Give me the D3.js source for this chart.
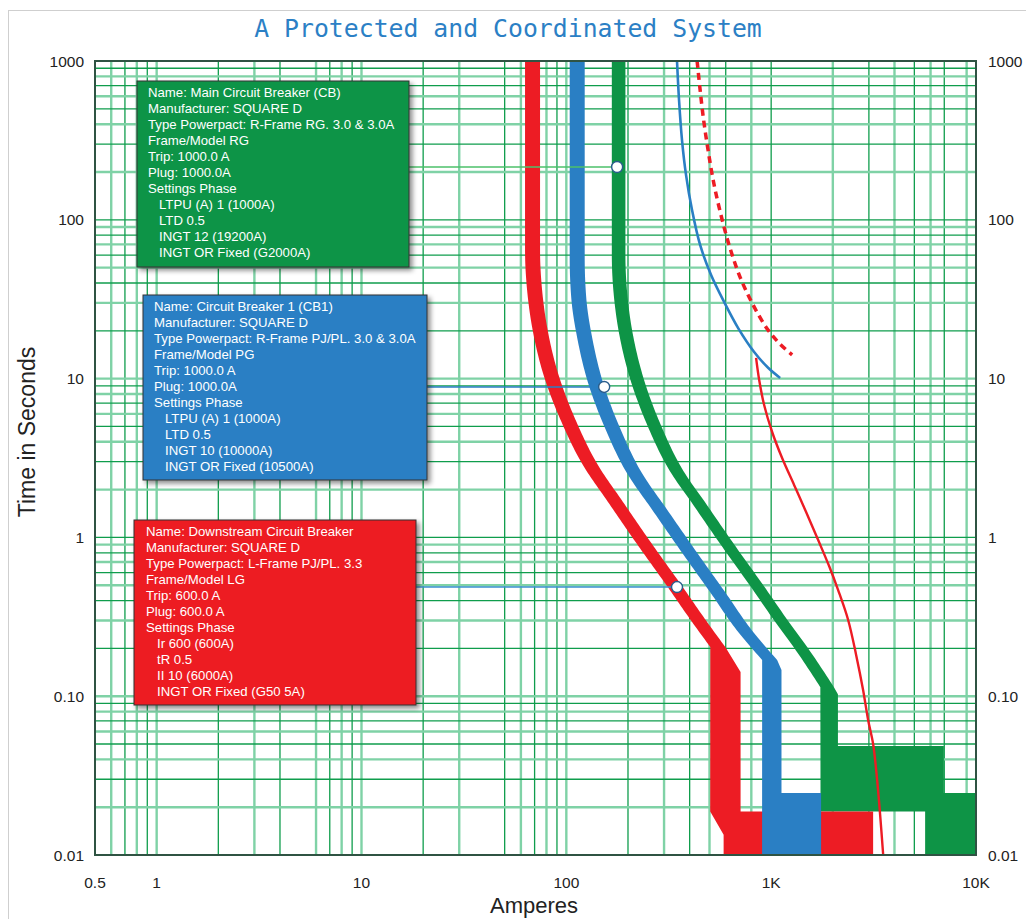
<!DOCTYPE html>
<html>
<head>
<meta charset="utf-8">
<script src="https://cdn.jsdelivr.net/npm/d3@7"></script>
<style>
  body { margin: 0; background: #fff; }
  text { font-family: "Liberation Sans", Arial, sans-serif; }
</style>
</head>
<body>
<div class="chart-container"></div>
<script>
// --------------------------------------------------------
// DATA (amperes, seconds)
// --------------------------------------------------------
const xTickValues = [0.5, 1, 10, 100, 1000, 10000];
const xTickLabels = ["0.5", "1", "10", "100", "1K", "10K"];
const yTickValues = [1000, 100, 10, 1, 0.1, 0.01];
const yTickLabels = ["1000", "100", "10", "1", "0.10", "0.01"];

// vertical grid lines present in the picture (some minor ones are missing)
const xGridValues = [0.6, 0.7, 0.8, 0.9, 1, 2, 3, 4, 6, 7, 8, 9, 10, 20, 30, 50, 60, 70, 80, 90,
  100, 200, 300, 400, 500, 600, 800, 1000, 2000, 3000, 4000, 5000, 6000, 7000, 9000];

// band centre lines (top down to where the left edge turns vertical)
const redBand = [[68.4, 1000], [68.4, 64.5], [70.0, 36.1], [74.5, 20.2], [84.3, 10.5], [102, 5.49],
  [131, 2.86], [175, 1.65], [237, 0.935], [340, 0.487], [440, 0.302], [549, 0.204]];
const blueBand = [[113, 1000], [113, 57.5], [115, 32.2], [123, 18.0], [139, 9.38], [168, 4.89],
  [215, 2.54], [288, 1.47], [391, 0.833], [560, 0.434], [725, 0.269], [983, 0.169]];
const greenBand = [[180, 1000], [180, 60.0], [184, 33.6], [196, 18.8], [222, 9.8], [268, 5.1],
  [343, 2.66], [450, 1.6], [609, 0.909], [874, 0.473], [1131, 0.293], [1411, 0.198], [1876, 0.114]];

// instantaneous "feet" of the bands (from the left edge round to the right edge)
const redFoot = [[504, 0.0188], [586, 0.0134], [586, 0.01], [3146, 0.01], [3146, 0.0188],
  [709, 0.0188], [709, 0.142]];
const blueFoot = [[903, 0.01], [1753, 0.01], [1753, 0.0246], [1123, 0.0246], [1123, 0.146]];
const greenFoot = [[1742, 0.0188], [5645, 0.0188], [5645, 0.01], [10000, 0.01], [10000, 0.0246],
  [6966, 0.0246], [6966, 0.0486], [2118, 0.0486], [2118, 0.103]];

// thin curves
const blueThin = [[347, 1000], [355, 568], [367, 318], [384, 192], [411, 115], [450, 69.4],
  [509, 44.9], [589, 30.4], [690, 20.8], [826, 14.7], [966, 11.7], [1106, 10.1]];
const redDashed = [[435, 1000], [450, 657], [468, 425], [492, 275], [521, 178], [564, 112],
  [623, 69.4], [705, 43.6], [816, 29.1], [966, 20.2], [1106, 16.5], [1266, 14.1]];
const redThin = [[844, 13.5], [874, 9.8], [924, 6.82], [1011, 4.61], [1131, 3.16], [1294, 2.14],
  [1481, 1.445], [1696, 0.963], [1918, 0.66], [2123, 0.466], [2376, 0.302], [2599, 0.182],
  [2812, 0.109], [2974, 0.0708], [3146, 0.05], [3291, 0.0297], [3404, 0.0179], [3523, 0.01]];

// settings points (connector targets)
const greenPoint = [177, 215];
const bluePoint = [153, 8.86];
const redPoint = [347, 0.487];

const greenText = ["Name: Main Circuit Breaker (CB)", "Manufacturer: SQUARE D",
  "Type Powerpact: R-Frame RG. 3.0 & 3.0A", "Frame/Model RG", "Trip: 1000.0 A", "Plug: 1000.0A",
  "Settings Phase", "LTPU (A) 1 (1000A)", "LTD 0.5", "INGT 12 (19200A)", "INGT OR Fixed (G2000A)"];
const blueText = ["Name: Circuit Breaker 1 (CB1)", "Manufacturer: SQUARE D",
  "Type Powerpact: R-Frame PJ/PL. 3.0 & 3.0A", "Frame/Model PG", "Trip: 1000.0 A", "Plug: 1000.0A",
  "Settings Phase", "LTPU (A) 1 (1000A)", "LTD 0.5", "INGT 10 (10000A)", "INGT OR Fixed (10500A)"];
const redText = ["Name: Downstream Circuit Breaker", "Manufacturer: SQUARE D",
  "Type Powerpact: L-Frame PJ/PL. 3.3", "Frame/Model LG", "Trip: 600.0 A", "Plug: 600.0 A",
  "Settings Phase", "Ir 600 (600A)", "tR 0.5", "II 10 (6000A)", "INGT OR Fixed (G50 5A)"];

// --------------------------------------------------------
// LAYOUT
// --------------------------------------------------------
const width = 1026;
const height = 919;
const plotLeft = 95, plotRight = 976, plotTop = 61, plotBottom = 855;

const RED = "#ed1c24", BLUE = "#2a7fc4", GREEN = "#0e9446";

const svg = d3.select(".chart-container").append("svg")
  .attr("width", width).attr("height", height);

const x = d3.scaleLog().domain([0.5, 10000]).range([plotLeft, plotRight]);
const y = d3.scaleLog().domain([0.01, 1000]).range([plotBottom, plotTop]);

const defs = svg.append("defs");
defs.append("clipPath").attr("id", "plotClip")
  .append("rect").attr("x", plotLeft).attr("y", plotTop)
  .attr("width", plotRight - plotLeft).attr("height", plotBottom - plotTop);
defs.append("filter").attr("id", "shadow")
  .attr("x", "-10%").attr("y", "-10%").attr("width", "125%").attr("height", "125%")
  .append("feDropShadow")
  .attr("dx", 3).attr("dy", 3).attr("stdDeviation", 2.5)
  .attr("flood-color", "#000").attr("flood-opacity", 0.45);

// outer frame
svg.append("rect")
  .attr("x", 8.5).attr("y", 10.5).attr("width", width).attr("height", height)
  .attr("fill", "none").attr("stroke", "#cfcfcf");

// title
svg.append("text")
  .attr("x", 508).attr("y", 37)
  .attr("text-anchor", "middle")
  .style("font-family", "'DejaVu Sans Mono', 'Liberation Mono', monospace")
  .style("font-size", "24.8px")
  .attr("fill", "#2b80c5")
  .text("A Protected and Coordinated System");

// --------------------------------------------------------
// GRID
// --------------------------------------------------------
const plot = svg.append("g").attr("clip-path", "url(#plotClip)");

function gridStyle(sel) {
  sel.attr("stroke", (d, i) => (i % 2 ? "#0f9d4c" : "#7fd2a6"))
    .attr("stroke-width", (d, i) => (i % 2 ? 1.3 : 2.4));
}

plot.append("g").selectAll("line")
  .data(xGridValues)
  .join("line")
  .attr("x1", (d) => x(d)).attr("x2", (d) => x(d))
  .attr("y1", plotTop).attr("y2", plotBottom)
  .call(gridStyle);

const yGridValues = y.ticks().filter((d) => d > 0.01 && d < 1000);
plot.append("g").selectAll("line")
  .data(yGridValues)
  .join("line")
  .attr("y1", (d) => y(d)).attr("y2", (d) => y(d))
  .attr("x1", plotLeft).attr("x2", plotRight)
  .call(gridStyle);

// --------------------------------------------------------
// BANDS
// --------------------------------------------------------
const curve = d3.line()
  .x((d) => x(d[0])).y((d) => y(d[1]))
  .curve(d3.curveMonotoneY);
const smooth = d3.line()
  .x((d) => x(d[0])).y((d) => y(d[1]))
  .curve(d3.curveCatmullRom.alpha(0.5));

// band outline: centre line offset left/right by a constant horizontal width,
// joined at the bottom by the stepped foot
function bandPath(center, hw, foot) {
  const tmp = svg.append("path").attr("d", curve(center));
  const node = tmp.node();
  const len = node.getTotalLength();
  const pts = d3.range(0, 201).map((i) => node.getPointAtLength((i / 200) * len));
  tmp.remove();
  const leftPts = pts.map((p) => [p.x - hw, p.y]);
  const rightPts = pts.map((p) => [p.x + hw, p.y]).reverse();
  const footPts = foot.map((d) => [x(d[0]), y(d[1])]);
  return d3.line()([...leftPts, ...footPts, ...rightPts]) + "Z";
}

const bands = [
  { line: greenBand, foot: greenFoot, color: GREEN, hw: 6.8 },
  { line: redBand, foot: redFoot, color: RED, hw: 7.5 },
  { line: blueBand, foot: blueFoot, color: BLUE, hw: 7.5 },
];

bands.forEach((b) => {
  plot.append("path")
    .attr("d", bandPath(b.line, b.hw, b.foot))
    .attr("fill", b.color);
});

// thin curves
plot.append("path").attr("d", smooth(blueThin))
  .attr("fill", "none").attr("stroke", BLUE).attr("stroke-width", 2.6);
plot.append("path").attr("d", smooth(redDashed))
  .attr("fill", "none").attr("stroke", RED).attr("stroke-width", 3.5)
  .attr("stroke-dasharray", "7,5");
plot.append("path").attr("d", smooth(redThin))
  .attr("fill", "none").attr("stroke", RED).attr("stroke-width", 2.4);

// plot border
svg.append("rect")
  .attr("x", plotLeft).attr("y", plotTop)
  .attr("width", plotRight - plotLeft).attr("height", plotBottom - plotTop)
  .attr("fill", "none").attr("stroke", "#2f5343").attr("stroke-width", 2);

// --------------------------------------------------------
// CALLOUT BOXES
// --------------------------------------------------------
const boxes = [
  { lines: greenText, color: GREEN, x0: 137, y0: 81, x1: 409, y1: 267, tx: 148, pt: greenPoint, lc: "#4cc06a" },
  { lines: blueText, color: BLUE, x0: 143, y0: 295, x1: 427, y1: 480, tx: 154, pt: bluePoint, lc: BLUE },
  { lines: redText, color: RED, x0: 134, y0: 520, x1: 416, y1: 705, tx: 146, pt: redPoint, lc: "#3a8fd0" },
];

boxes.forEach((b) => {
  // connector line
  svg.append("line")
    .attr("x1", b.x1).attr("x2", x(b.pt[0]))
    .attr("y1", y(b.pt[1])).attr("y2", y(b.pt[1]))
    .attr("stroke", b.lc).attr("stroke-width", 1.6);
  svg.append("circle")
    .attr("cx", x(b.pt[0])).attr("cy", y(b.pt[1])).attr("r", 5.5)
    .attr("fill", "#fff").attr("stroke", "#2a5d8c").attr("stroke-width", 1.4);

  const g = svg.append("g");
  g.append("rect")
    .attr("x", b.x0).attr("y", b.y0)
    .attr("width", b.x1 - b.x0).attr("height", b.y1 - b.y0)
    .attr("fill", b.color).attr("stroke", "#333").attr("stroke-width", 1)
    .attr("filter", "url(#shadow)");
  g.selectAll("text")
    .data(b.lines)
    .join("text")
    .attr("x", (d, i) => b.tx + (i >= 7 ? 11 : 0))
    .attr("y", (d, i) => b.y0 + 15.5 + i * 16)
    .attr("fill", "#fff")
    .style("font-size", "13.2px")
    .text((d) => d);
});

// --------------------------------------------------------
// AXES LABELS
// --------------------------------------------------------
svg.append("g").selectAll("text")
  .data(yTickValues)
  .join("text")
  .attr("x", 84).attr("y", (d) => y(d) + 5.5)
  .attr("text-anchor", "end")
  .style("font-size", "15.5px").attr("fill", "#222")
  .text((d, i) => yTickLabels[i]);

svg.append("g").selectAll("text")
  .data(yTickValues)
  .join("text")
  .attr("x", 988).attr("y", (d) => y(d) + 5.5)
  .attr("text-anchor", "start")
  .style("font-size", "15.5px").attr("fill", "#222")
  .text((d, i) => yTickLabels[i]);

svg.append("g").selectAll("text")
  .data(xTickValues)
  .join("text")
  .attr("x", (d) => x(d)).attr("y", 888)
  .attr("text-anchor", "middle")
  .style("font-size", "15.5px").attr("fill", "#222")
  .text((d, i) => xTickLabels[i]);

svg.append("text")
  .attr("x", 534).attr("y", 913)
  .attr("text-anchor", "middle")
  .style("font-size", "22px").attr("fill", "#222")
  .text("Amperes");

svg.append("text")
  .attr("transform", "translate(35,432) rotate(-90)")
  .attr("text-anchor", "middle")
  .style("font-size", "23px").attr("fill", "#222")
  .text("Time in Seconds");
</script>
</body>
</html>
